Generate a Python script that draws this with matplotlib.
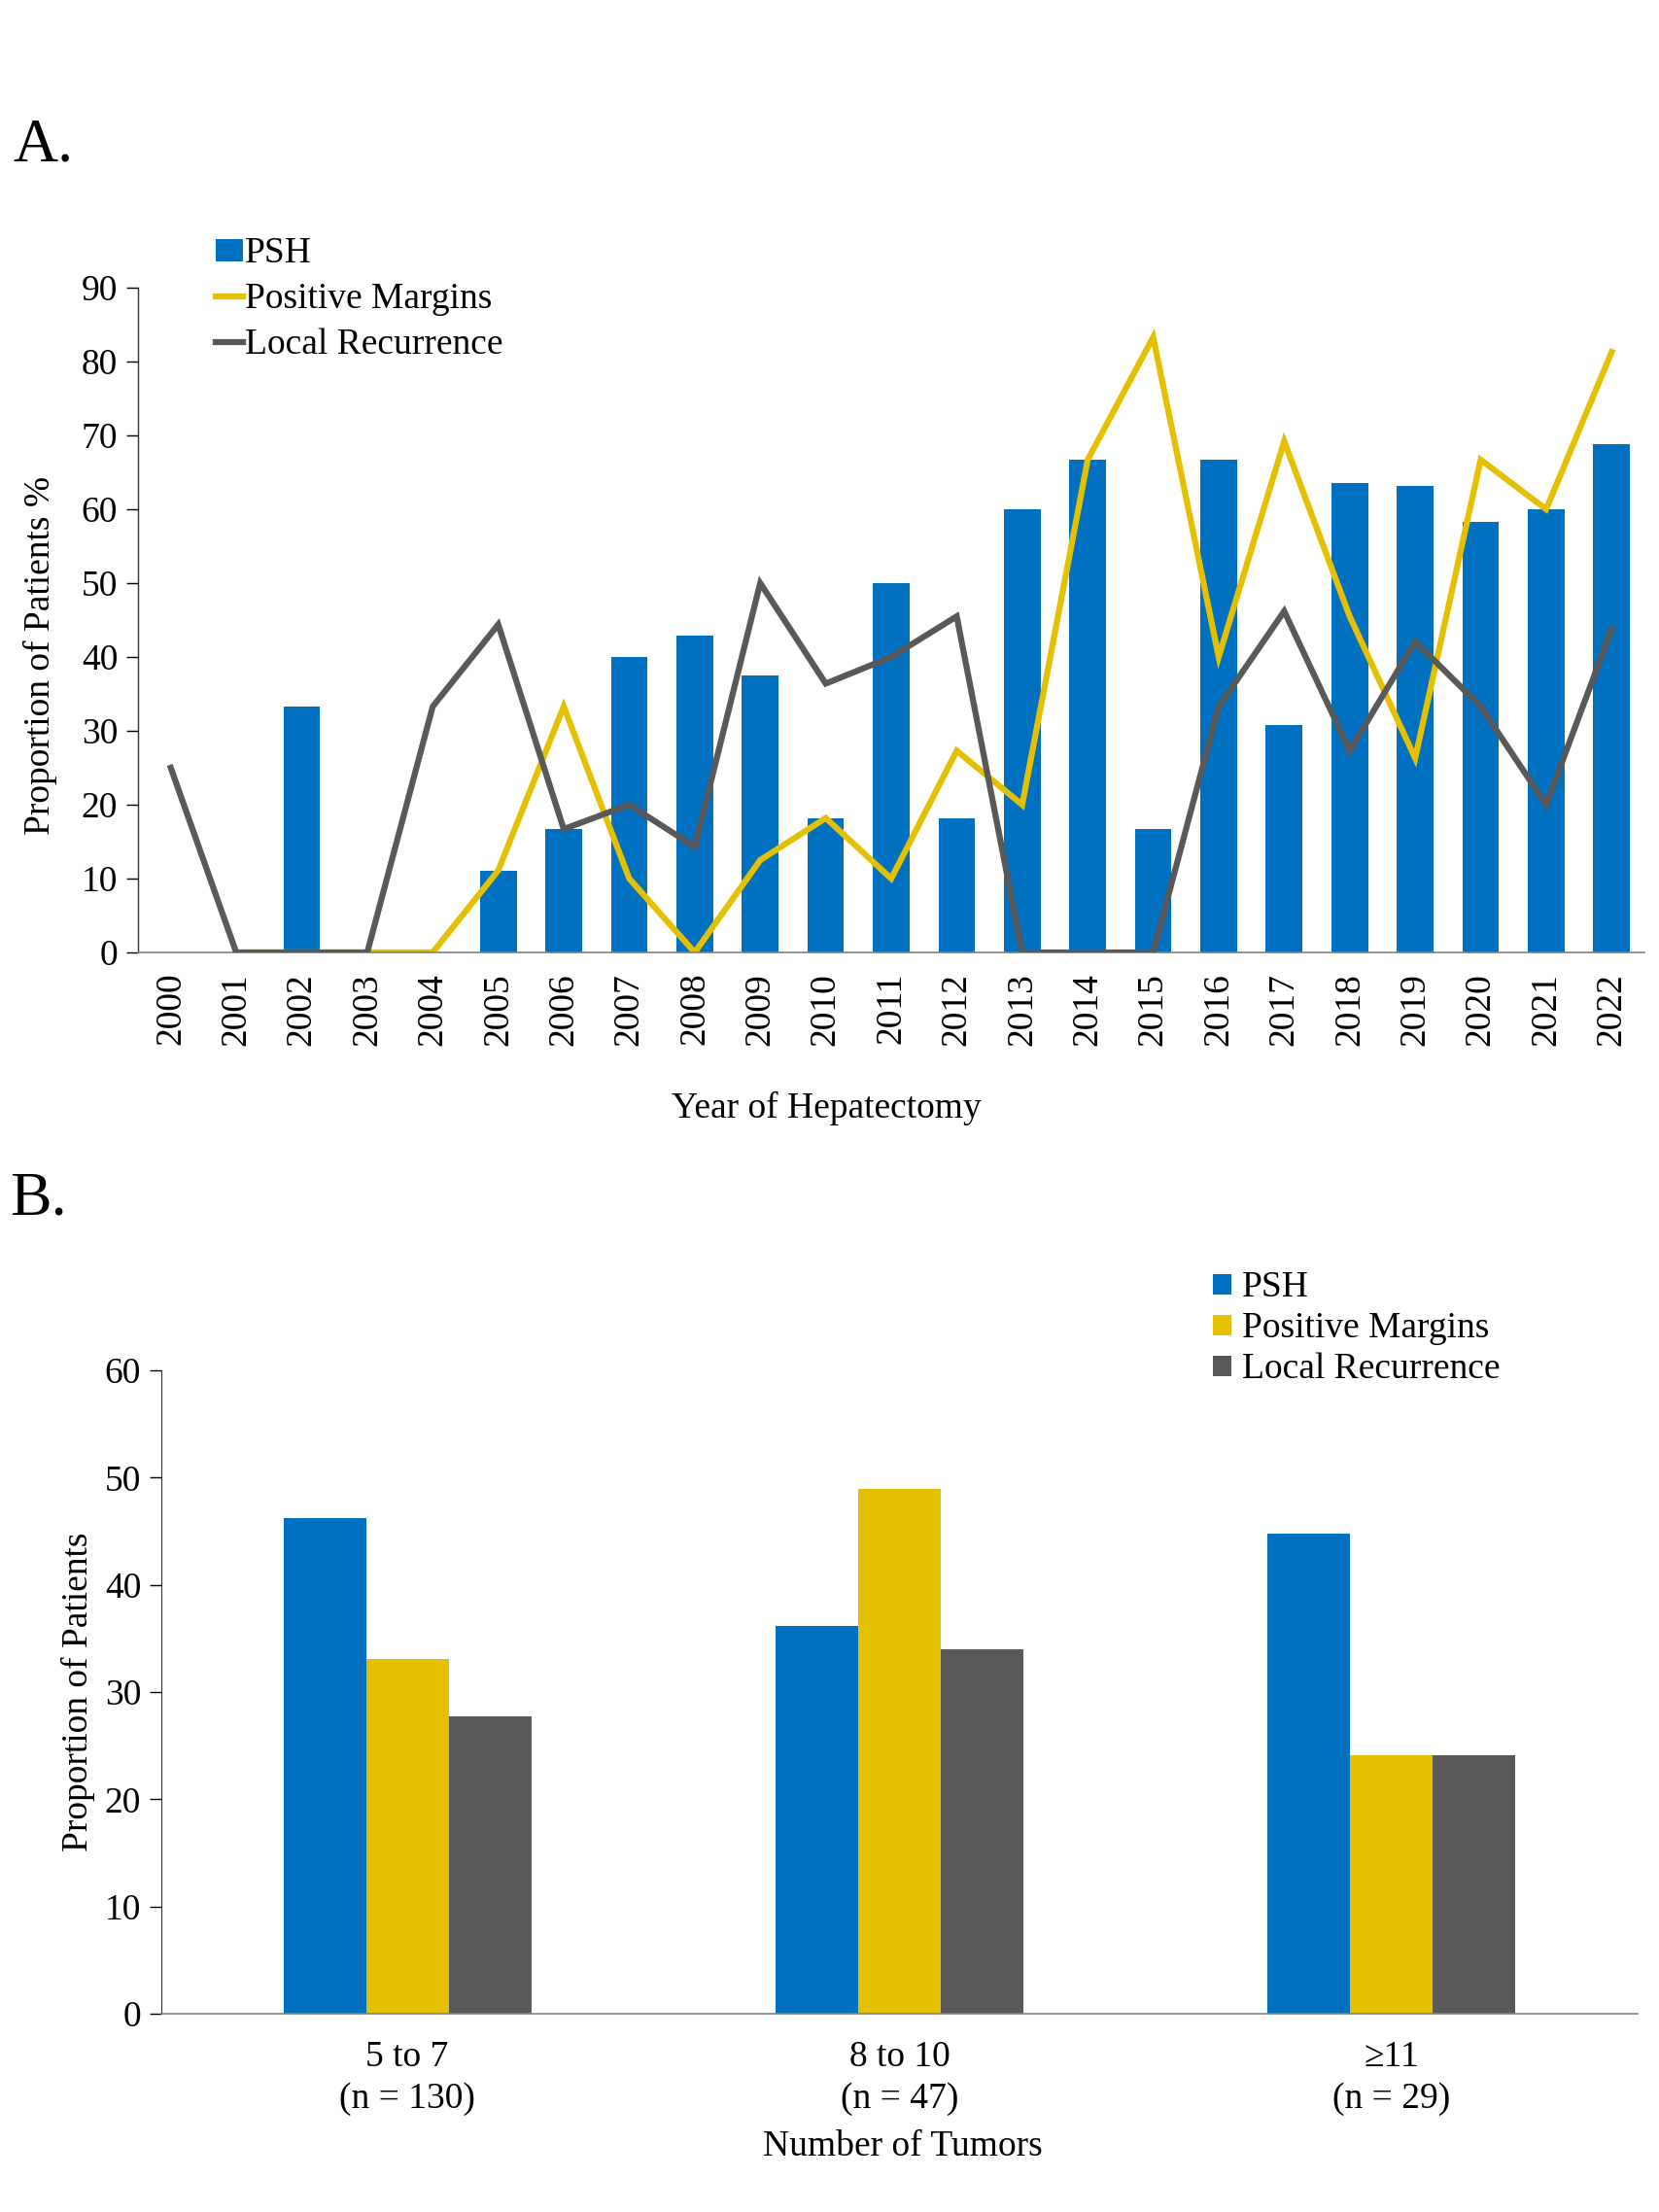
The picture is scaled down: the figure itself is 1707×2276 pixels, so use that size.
import numpy as np
import matplotlib
matplotlib.use("Agg")
import matplotlib.pyplot as plt
from matplotlib.patches import Patch
from matplotlib.lines import Line2D

plt.rcParams['font.family'] = ['Liberation Serif', 'DejaVu Serif']

# ---------------- data ----------------
years = [str(y) for y in range(2000, 2023)]
psh_year = [0, 0, 33.3, 0, 0, 11.1, 16.7, 40.0, 42.9, 37.5, 18.2, 50.0, 18.2,
            60.0, 66.7, 16.7, 66.7, 30.8, 63.6, 63.2, 58.3, 60.0, 68.8]
margins_year = [np.nan, 0, 0, 0, 0, 11.1, 33.3, 10.0, 0, 12.5, 18.2, 10.0, 27.3,
                20.0, 66.7, 83.3, 40.0, 69.2, 45.5, 26.3, 66.7, 60.0, 81.3]
recur_year = [25.0, 0, 0, 0, 33.3, 44.4, 16.7, 20.0, 14.3, 50.0, 36.4, 40.0, 45.5,
              0, 0, 0, 33.3, 46.2, 27.3, 42.1, 33.3, 20.0, 43.8]

groups = ["5 to 7\n(n = 130)", "8 to 10\n(n = 47)", "\u226511\n(n = 29)"]
psh_grp = [46.2, 36.2, 44.8]
margins_grp = [33.1, 48.9, 24.1]
recur_grp = [27.7, 34.0, 24.1]

BLUE = '#0070C0'
YELLOW = '#E5C000'
GRAY = '#595959'

W, H = 1707, 2276
fig = plt.figure(figsize=(W / 100, H / 100), dpi=100)

FS = 27
LW = 4.5

# ---------------- panel A ----------------
axA = fig.add_axes([142 / W, 1 - 980 / H, (1692 - 142) / W, (980 - 296) / H])
x = np.arange(len(years))
axA.bar(x, psh_year, width=0.56, color=BLUE, zorder=1)
axA.plot(x, margins_year, color=YELLOW, lw=LW, zorder=2, solid_joinstyle='miter')
axA.plot(x, recur_year, color=GRAY, lw=LW, zorder=3, solid_joinstyle='miter')
axA.set_xlim(-0.5, len(years) - 0.5)
axA.set_ylim(0, 90)
axA.set_yticks(np.arange(0, 91, 10))
axA.set_xticks(x)
axA.set_xticklabels(years, rotation=90, fontsize=FS)
axA.tick_params(axis='y', labelsize=FS, length=9, width=1, direction='out', pad=6)
axA.tick_params(axis='x', length=0, pad=15)
for s in ['top', 'right']:
    axA.spines[s].set_visible(False)
axA.spines['left'].set_color('#333333')
axA.spines['bottom'].set_color('#808080')
axA.spines['left'].set_linewidth(1)
axA.spines['bottom'].set_linewidth(1.2)

handlesA = [Patch(facecolor=BLUE, edgecolor='none', label='PSH'),
            Line2D([0], [0], color=YELLOW, lw=LW, label='Positive Margins'),
            Line2D([0], [0], color=GRAY, lw=LW, label='Local Recurrence')]
fig.legend(handles=handlesA, loc='upper left', bbox_to_anchor=(222 / W, 1 - 244 / H),
           frameon=False, fontsize=FS, handlelength=0.75, handleheight=0.55,
           handletextpad=0.05, labelspacing=0.33, borderpad=0, borderaxespad=0)

fig.text(850 / W, 1 - 1140 / H, 'Year of Hepatectomy', ha='center', va='center', fontsize=FS)
fig.text(41 / W, 1 - 674 / H, 'Proportion of Patients %', ha='center', va='center',
         rotation=90, fontsize=FS)
fig.text(13 / W, 1 - 166 / H, 'A.', ha='left', va='baseline', fontsize=46)

# ---------------- panel B ----------------
axB = fig.add_axes([166 / W, 1 - 2072 / H, (1685 - 166) / W, (2072 - 1410) / H])
xg = np.arange(len(groups))
bw = 0.168
axB.bar(xg - bw, psh_grp, width=bw, color=BLUE, label='PSH')
axB.bar(xg, margins_grp, width=bw, color=YELLOW, label='Positive Margins')
axB.bar(xg + bw, recur_grp, width=bw, color=GRAY, label='Local Recurrence')
axB.set_xlim(-0.5, len(groups) - 0.5)
axB.set_ylim(0, 60)
axB.set_yticks(np.arange(0, 61, 10))
axB.set_xticks(xg)
axB.set_xticklabels(groups, fontsize=FS, linespacing=1.3)
axB.tick_params(axis='y', labelsize=FS, length=9, width=1, direction='out', pad=6)
axB.tick_params(axis='x', length=0, pad=20)
for s in ['top', 'right']:
    axB.spines[s].set_visible(False)
axB.spines['left'].set_color('#333333')
axB.spines['bottom'].set_color('#808080')
axB.spines['bottom'].set_linewidth(1.2)

fig.legend(handles=[Patch(facecolor=BLUE, label='PSH'),
                    Patch(facecolor=YELLOW, label='Positive Margins'),
                    Patch(facecolor=GRAY, label='Local Recurrence')],
           loc='upper left', bbox_to_anchor=(1248 / W, 1 - 1308 / H),
           frameon=False, fontsize=FS, handlelength=0.5, handleheight=0.5,
           handletextpad=0.3, labelspacing=0.2, borderpad=0, borderaxespad=0)

fig.text(929 / W, 1 - 2209 / H, 'Number of Tumors', ha='center', va='center', fontsize=FS)
fig.text(80 / W, 1 - 1741 / H, 'Proportion of Patients', ha='center', va='center',
         rotation=90, fontsize=FS)
fig.text(10 / W, 1 - 1250 / H, 'B.', ha='left', va='baseline', fontsize=46)

fig.savefig('out.png', dpi=100, facecolor='white')
